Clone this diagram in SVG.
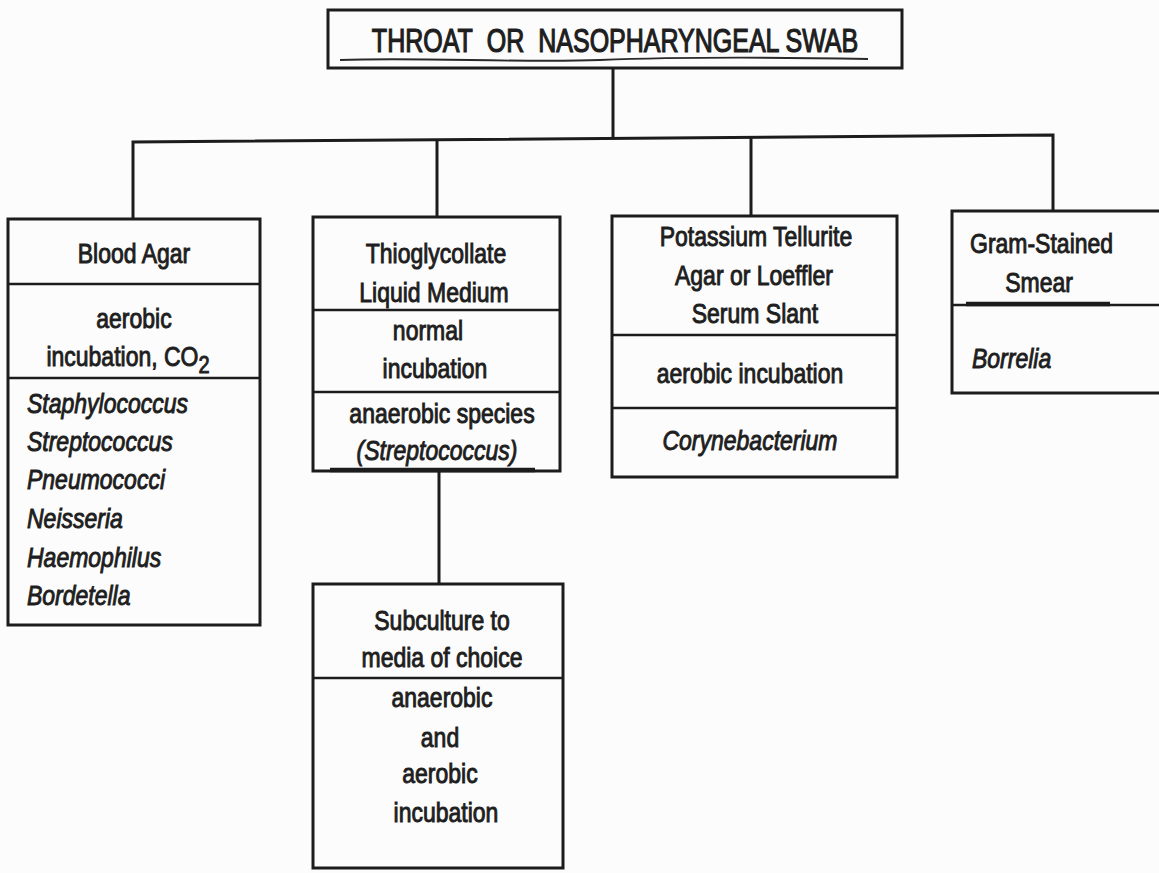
<svg xmlns="http://www.w3.org/2000/svg" width="1159" height="873" viewBox="0 0 1159 873">
  <style>
    .box { fill: none; stroke: #1c1c1c; stroke-width: 3; }
    .div { fill: none; stroke: #1c1c1c; stroke-width: 2.6; }
    .heavy { fill: none; stroke: #1c1c1c; stroke-width: 4.5; }
    .wire { fill: none; stroke: #1c1c1c; stroke-width: 3; }
    text { font-family: "Liberation Sans", Arial, sans-serif; font-size: 23px; fill: #1e1e1e; stroke: #1e1e1e; stroke-width: 0.8; }
    .c { text-anchor: middle; }
    .i { font-style: italic; }
    .title { font-size: 25px; stroke-width: 0.95; }
  </style>

  <rect width="1159" height="873" fill="#fcfcfc"/>

  <!-- connectors -->
  <g id="connectors">
    <path class="wire" d="M613 68 V139"/>
    <path class="wire" d="M133 220 V142 L1053 135 V211"/>
    <path class="wire" d="M437 141 V217"/>
    <path class="wire" d="M751 138 V216"/>
    <path class="wire" d="M439 471 V584"/>
  </g>

  <!-- root -->
  <g id="swab">
    <rect class="box" x="328" y="10" width="574" height="58"/>
    <text class="c title" transform="translate(615 52) scale(1 1.3)">THROAT<tspan dx="14">OR</tspan><tspan dx="14">NASOPHARYNGEAL SWAB</tspan></text>
    <path d="M340 60 C420 57 520 63 600 60 S760 57 868 59" fill="none" stroke="#2a2a2a" stroke-width="1.8"/>
  </g>

  <!-- blood agar -->
  <g id="blood-agar">
    <rect class="box" x="8" y="219" width="252" height="406"/>
    <path class="div" d="M8 284 H260 M8 378 H260"/>
    <text class="c" transform="translate(134 263) scale(1 1.2)">Blood Agar</text>
    <text class="c" transform="translate(134 328) scale(1 1.2)">aerobic</text>
    <text class="c" transform="translate(128 366) scale(1 1.2)">incubation, CO<tspan font-size="20" dy="6">2</tspan></text>
    <text class="i" transform="translate(27 413) scale(1 1.2)">Staphylococcus</text>
    <text class="i" transform="translate(27 451) scale(1 1.2)">Streptococcus</text>
    <text class="i" transform="translate(27 489) scale(1 1.2)">Pneumococci</text>
    <text class="i" transform="translate(27 528) scale(1 1.2)">Neisseria</text>
    <text class="i" transform="translate(27 567) scale(1 1.2)">Haemophilus</text>
    <text class="i" transform="translate(27 605) scale(1 1.2)">Bordetella</text>
  </g>

  <!-- thioglycollate -->
  <g id="thioglycollate">
    <rect class="box" x="313" y="217" width="247" height="254"/>
    <path class="div" d="M313 310 H560 M313 392 H560"/>
    <path class="heavy" d="M330 470 H535"/>
    <text class="c" transform="translate(436 263) scale(1 1.2)">Thioglycollate</text>
    <text class="c" transform="translate(434 302) scale(1 1.2)">Liquid Medium</text>
    <text class="c" transform="translate(428 340) scale(1 1.2)">normal</text>
    <text class="c" transform="translate(435 378) scale(1 1.2)">incubation</text>
    <text class="c" transform="translate(442 423) scale(1 1.2)">anaerobic species</text>
    <text class="c i" transform="translate(437 460) scale(1 1.2)">(Streptococcus)</text>
  </g>

  <!-- subculture -->
  <g id="subculture">
    <rect class="box" x="313" y="584" width="250" height="284"/>
    <path class="div" d="M313 678 H563"/>
    <text class="c" transform="translate(442 630) scale(1 1.2)">Subculture to</text>
    <text class="c" transform="translate(442 667) scale(1 1.2)">media of choice</text>
    <text class="c" transform="translate(442 707) scale(1 1.2)">anaerobic</text>
    <text class="c" transform="translate(440 747) scale(1 1.2)">and</text>
    <text class="c" transform="translate(440 783) scale(1 1.2)">aerobic</text>
    <text class="c" transform="translate(446 822) scale(1 1.2)">incubation</text>
  </g>

  <!-- tellurite / loeffler -->
  <g id="tellurite">
    <rect class="box" x="612" y="216" width="285" height="261"/>
    <path class="div" d="M612 335 H897 M612 408 H897"/>
    <text class="c" transform="translate(756 246) scale(1 1.2)">Potassium Tellurite</text>
    <text class="c" transform="translate(754 285) scale(1 1.2)">Agar or Loeffler</text>
    <text class="c" transform="translate(755 323) scale(1 1.2)">Serum Slant</text>
    <text class="c" transform="translate(750 383) scale(1 1.2)">aerobic incubation</text>
    <text class="c i" transform="translate(750 450) scale(1 1.2)">Corynebacterium</text>
  </g>

  <!-- gram smear -->
  <g id="gram-smear">
    <rect class="box" x="952" y="211" width="220" height="182"/>
    <path class="div" d="M952 305 H1159"/>
    <path class="heavy" d="M966 304 H1110"/>
    <text transform="translate(970 253) scale(1 1.2)">Gram-Stained</text>
    <text class="c" transform="translate(1039 292) scale(1 1.2)">Smear</text>
    <text class="i" transform="translate(972 368) scale(1 1.2)">Borrelia</text>
  </g>
</svg>
